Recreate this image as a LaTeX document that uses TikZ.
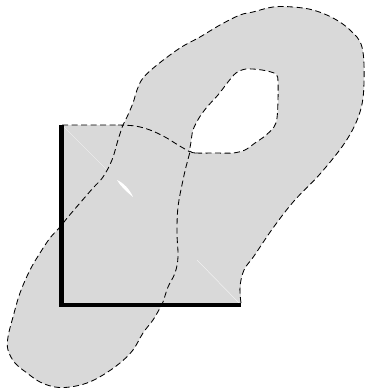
\documentclass[tikz,border=0pt]{standalone}
\definecolor{blobgray}{RGB}{217,217,217}
\tikzset{
  dashline/.style={dash pattern=on 6pt off 3.5pt, line width=0.85pt, black},
  thickedge/.style={line width=4.5pt, line join=miter, black},
  artifact/.style={white, line width=0.35pt, opacity=0.8},
}
\begin{document}
\begin{tikzpicture}[x=1pt,y=-1pt]
\useasboundingbox (0,0) rectangle (365,390);
% square fill
\fill[blobgray] (62,125) rectangle (241,305);
% blob fill
\fill[blobgray] plot[smooth,tension=0.6] coordinates {
 (241,303) (240,287) (244,270) (254,256) (273,228) (294,201) (320,174) (346,141)
 (360,112) (364,83) (362,47) (350,30) (333,18) (313,10) (293,7) (273,7) (253,12)
 (240,15) (220,25) (200,37) (180,48) (157,65) (143,78) (137,90) (133,103) (127,117)
 (123,125) (118,140) (112,160) (103,177) (93,188) (80,203) (68,217) (60,227)
 (50,238) (40,253) (30,270) (20,293) (13,317) (8,337) (8,350) (15,363) (27,373)
 (40,382) (55,387) (70,387) (87,383) (103,375) (120,363) (133,350) (143,333)
 (153,320) (160,308) (163,302) (168,287) (175,273) (178,257) (177,233) (178,207)
 (183,180) (187,163) (190,152)} -- cycle;
% hole
\fill[white] plot[smooth cycle,tension=0.5] coordinates {
 (190,151) (196,153) (215,153) (233,153) (245,150) (255,143) (265,136) (274,127)
 (277,118) (278,100) (278,82) (276,74) (262,70) (246,69) (236,73) (228,82)
 (218,95) (207,107) (199,118) (193,130) (191,142)};
% white artifacts
\draw[artifact] (62,125) -- (107,170);
\draw[artifact] (197,260) -- (241,305);
\fill[white] (117,180) .. controls (124,183) and (130,190) .. (133,197)
  .. controls (127,192) and (121,187) .. (117,180);
% dashed curves
\draw[dashline] plot[smooth,tension=0.6] coordinates {
 (241,303) (240,287) (244,270) (254,256) (273,228) (294,201) (320,174) (346,141)
 (360,112) (364,83) (362,47) (350,30) (333,18) (313,10) (293,7) (273,7) (253,12)
 (240,15) (220,25) (200,37) (180,48) (157,65) (143,78) (137,90) (133,103) (127,117)
 (123,125) (118,140) (112,160) (103,177) (93,188) (80,203) (68,217) (60,227)
 (50,238) (40,253) (30,270) (20,293) (13,317) (8,337) (8,350) (15,363) (27,373)
 (40,382) (55,387) (70,387) (87,383) (103,375) (120,363) (133,350) (143,333)
 (153,320) (160,308) (163,302) (168,287) (175,273) (178,257) (177,233) (178,207)
 (183,180) (187,163) (190,152)};
\draw[dashline] plot[smooth cycle,tension=0.5] coordinates {
 (190,151) (196,153) (215,153) (233,153) (245,150) (255,143) (265,136) (274,127)
 (277,118) (278,100) (278,82) (276,74) (262,70) (246,69) (236,73) (228,82)
 (218,95) (207,107) (199,118) (193,130) (191,142)};
\draw[dashline] (62,125) -- (118,125)
  plot[smooth,tension=0.6] coordinates {(118,125) (135,126) (150,130) (165,137) (178,145) (190,152)};
% thick edges
\draw[thickedge] (61.7,125) -- (61.7,305) -- (241,305);
\end{tikzpicture}
\end{document}
